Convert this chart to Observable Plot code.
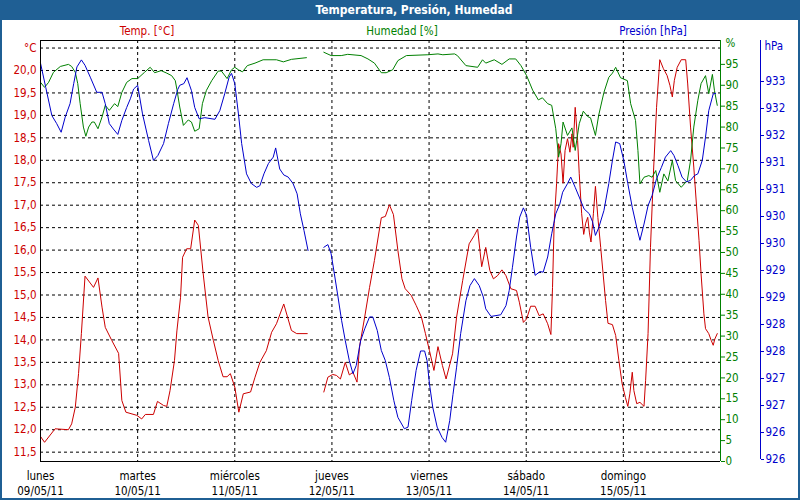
<!DOCTYPE html>
<html><head><meta charset="utf-8">
<script src="https://cdn.jsdelivr.net/npm/d3@7"></script>
<script src="https://cdn.jsdelivr.net/npm/@observablehq/plot@0.6"></script>
<style>
body{margin:0;background:#fff;}
#wrap{position:relative;width:800px;height:500px;overflow:hidden;font-family:"DejaVu Sans Condensed","Liberation Sans",sans-serif;}
#chart{position:absolute;left:0;top:0;}
#title{position:absolute;left:0;top:0;width:828px;height:20px;background:#1f5f94;color:#fff;font-weight:bold;font-size:12px;line-height:20px;text-align:center;z-index:2;}
#border{position:absolute;left:0;top:0;width:800px;height:500px;box-sizing:border-box;border:2px solid #1f5f94;pointer-events:none;z-index:3;}
.lbl{position:absolute;top:24px;font-size:11.5px;width:160px;text-align:center;z-index:2;}
</style></head>
<body>
<div id="wrap">
  <div id="chart"></div>
  <div id="title">Temperatura, Presión, Humedad</div>
  <div class="lbl" style="left:67px;color:#cc0000">Temp. [°C]</div>
  <div class="lbl" style="left:322px;color:#008000">Humedad [%]</div>
  <div class="lbl" style="left:573px;color:#0000cc">Presión [hPa]</div>
  <div id="border"></div>
</div>
<script>
// ---- data (hours since lunes 09/05/11 00:00, value) ----
const dayNames = ["lunes","martes","miércoles","jueves","viernes","sábado","domingo"];
const dayDates = ["09/05/11","10/05/11","11/05/11","12/05/11","13/05/11","14/05/11","15/05/11"];
const tempTicks = [11.5,12,12.5,13,13.5,14,14.5,15,15.5,16,16.5,17,17.5,18,18.5,19,19.5,20];
const humTicks = [0,5,10,15,20,25,30,35,40,45,50,55,60,65,70,75,80,85,90,95];
const presTicks = [925.75,926.25,926.75,927.25,927.75,928.25,928.75,929.25,929.75,930.25,930.75,931.25,931.75,932.25,932.75];

const temperature = [[0,11.85],[1.0,11.72],[3.6,12.02],[6.9,12.0],[7.7,12.13],[8.6,12.5],[9.4,13.25],[10.1,14.14],[11.0,15.42],[13.1,15.17],[14.2,15.38],[15.2,14.73],[16.0,14.28],[17.6,13.99],[19.3,13.70],[20.1,12.65],[21.1,12.39],[23.8,12.32],[25.0,12.24],[25.9,12.34],[27.9,12.34],[28.9,12.63],[30.4,12.54],[31.2,12.52],[32.0,12.87],[33.1,13.54],[33.7,14.2],[34.6,14.95],[35.1,15.84],[36.1,16.03],[37.1,16.03],[38.1,16.67],[39.0,16.55],[40.2,15.47],[41.4,14.51],[42.7,13.99],[43.9,13.54],[45.1,13.18],[46.1,13.18],[46.9,13.25],[48.0,12.95],[49.0,12.39],[50.1,12.80],[51.9,12.84],[53.0,13.17],[54.2,13.50],[55.8,13.76],[57.1,14.17],[58.3,14.36],[60.1,14.80],[62.0,14.21],[63.3,14.14],[65.9,14.14],[68,null],
[70.0,12.84],[71.0,13.17],[72.2,13.23],[73.1,13.21],[74.1,13.13],[75.3,13.50],[76.3,13.22],[77.2,13.28],[78.2,13.06],[78.8,13.84],[80.1,14.51],[81.3,15.17],[82.5,15.77],[84.2,16.72],[85.2,16.75],[86.2,17.01],[87.2,16.79],[88.3,15.99],[89.3,15.36],[90.1,15.14],[91.6,14.99],[92.8,14.77],[94.1,14.51],[95.1,14.14],[96.1,13.76],[97.2,13.32],[98.2,13.85],[99.3,13.43],[100.2,13.13],[101.8,13.69],[102.8,14.51],[104.3,15.32],[105.9,16.14],[107.2,16.33],[108.0,16.47],[109.0,15.63],[110.0,16.06],[111.0,15.55],[111.9,15.36],[112.9,15.43],[114.0,15.56],[115.0,15.43],[116.2,15.14],[117.6,15.10],[118.3,14.84],[119.3,14.39],[120.1,14.47],[121.1,14.75],[122.2,14.75],[123.2,14.54],[124.2,14.58],[125.3,14.36],[126.1,14.12],[126.5,15.17],[126.9,16.59],[127.5,17.48],[128.0,18.37],[128.6,18.14],[129.1,17.49],[129.6,18.22],[130.2,18.48],[130.8,18.18],[131.3,18.59],[131.6,18.29],[132.1,19.18],[132.7,18.44],[133.1,17.70],[133.7,16.81],[134.2,16.35],[134.7,16.60],[135.2,16.73],[135.6,16.40],[136.0,16.18],[136.6,16.81],[137.1,17.42],[137.7,16.73],[138.4,16.06],[139.0,15.47],[139.6,14.88],[140.2,14.37],[141.3,14.34],[142.1,14.10],[142.9,13.54],[143.7,13.02],[144.5,12.72],[145.1,12.52],[145.6,12.80],[146.2,13.28],[146.6,12.87],[147.3,12.58],[148.1,12.61],[149.1,12.52],[149.5,13.10],[150.1,14.14],[150.7,16.06],[151.5,17.85],[152.2,19.18],[153.0,20.24],[153.9,20.04],[154.8,19.89],[155.5,19.67],[156.1,19.41],[156.6,19.78],[157.3,20.07],[158.3,20.24],[159.4,20.24],[159.9,19.70],[160.6,18.74],[161.4,17.85],[162.1,16.96],[162.7,16.21],[163.2,15.47],[163.9,14.58],[164.3,14.25],[165.1,14.14],[165.7,13.99],[166.2,13.88],[166.6,14.02],[167.2,14.14]];

const humidity = [[0,90.7],[1.0,89.5],[2.0,90.7],[3.2,93.1],[4.9,94.5],[6.9,95.0],[7.7,94.5],[8.6,93.1],[9.2,90.4],[9.8,85.6],[10.6,80.0],[11.2,77.8],[11.9,80.0],[12.7,81.2],[13.3,81.2],[14.2,79.6],[15.2,82.4],[16.0,85.2],[17.0,84.0],[18.3,85.6],[19.1,84.9],[20.1,88.3],[21.3,90.7],[22.6,91.6],[24.0,91.6],[25.7,93.1],[27.1,94.3],[28.2,93.0],[29.8,93.5],[31.2,92.9],[32.4,92.3],[33.3,91.1],[33.7,89.0],[34.4,84.8],[35.3,80.4],[36.5,81.7],[37.3,81.2],[38.1,79.0],[39.2,79.6],[40.0,85.6],[41.0,88.8],[42.3,91.1],[43.9,93.4],[44.7,93.4],[46.1,91.6],[47.2,93.7],[48.0,94.3],[48.9,93.7],[49.9,93.2],[51.1,94.7],[53.0,95.3],[55.0,96.1],[58.3,96.1],[60.0,95.6],[62.0,96.2],[65.7,96.6],[68,null],
[70.0,97.9],[71.8,97.1],[74.3,97.1],[75.9,97.4],[79.2,97.1],[80.9,96.3],[82.5,95.3],[84.2,93.0],[85.4,93.0],[87.0,93.7],[88.3,95.9],[90.4,97.1],[95.7,97.3],[98.2,97.5],[99.4,97.3],[102.3,97.5],[103.0,97.1],[105.1,94.7],[108.0,94.3],[109.2,96.1],[110.0,95.3],[112.1,96.1],[114.0,95.0],[115.8,96.3],[117.4,96.3],[118.7,94.7],[120.1,92.3],[121.6,88.8],[123.0,86.5],[124.0,87.0],[125.3,85.6],[126.3,85.2],[127.3,79.6],[128.0,72.8],[128.6,76.0],[129.1,81.2],[130.2,78.0],[131.3,79.8],[132.1,74.4],[133.1,80.8],[134.1,83.8],[135.2,82.5],[135.9,82.2],[137.1,78.0],[137.9,82.8],[139.2,88.3],[140.4,91.9],[141.3,92.9],[142.1,94.3],[143.3,91.8],[145.0,91.1],[145.8,85.6],[147.0,81.6],[147.6,74.4],[148.1,66.4],[149.1,68.0],[150.3,68.4],[151.1,68.0],[152.0,69.6],[153.0,64.4],[154.0,68.8],[155.0,67.1],[156.1,72.0],[156.9,67.2],[158.3,65.6],[159.8,67.2],[160.6,72.0],[161.4,80.0],[162.4,86.4],[163.2,90.4],[164.3,92.3],[165.1,88.0],[166.0,92.6],[166.5,88.8],[167.2,85.2]];

const pressure = [[0,933.09],[1.3,932.64],[2.8,932.12],[4.0,931.97],[5.1,931.81],[6.1,932.09],[7.3,932.34],[8.2,932.71],[9.0,933.02],[10.1,933.15],[11.0,933.05],[12.3,932.83],[13.9,932.55],[15.2,932.55],[16.0,932.34],[17.0,931.97],[18.0,931.87],[19.1,931.77],[20.1,932.03],[21.3,932.27],[22.2,932.43],[23.0,932.61],[24.0,932.68],[25.2,932.15],[26.7,931.66],[27.9,931.29],[29.0,931.38],[30.4,931.60],[31.6,931.97],[32.9,932.34],[33.9,932.6],[34.4,932.68],[35.4,932.71],[36.2,932.82],[37.3,932.58],[38.1,932.27],[39.2,932.06],[40.6,932.08],[43.1,932.05],[44.3,932.21],[45.5,932.52],[46.6,932.83],[47.2,932.90],[48.0,932.71],[48.9,932.15],[49.7,931.60],[50.9,931.04],[52.1,930.86],[53.4,930.79],[54.2,930.82],[55.2,931.04],[56.3,931.23],[57.5,931.35],[58.1,931.52],[59.1,931.13],[60.1,931.02],[61.2,930.98],[62.4,930.86],[63.4,930.67],[64.2,930.30],[65.1,929.99],[66.1,929.62],[68,null],
[70.0,929.68],[71.0,929.73],[71.8,929.56],[72.6,929.19],[73.5,928.76],[74.4,928.32],[75.3,927.95],[76.3,927.58],[77.2,927.34],[78.0,927.49],[79.1,927.95],[80.1,928.17],[81.3,928.39],[82.1,928.39],[83.2,928.14],[84.2,927.77],[85.2,927.58],[86.2,927.27],[87.3,926.84],[88.3,926.53],[89.9,926.32],[90.8,926.35],[91.7,926.84],[92.8,927.40],[93.9,927.76],[94.9,927.76],[95.5,927.58],[96.1,927.15],[96.9,926.72],[98.0,926.35],[99.2,926.16],[100.1,926.07],[101.1,926.47],[101.9,926.95],[102.8,927.46],[103.8,928.08],[105.1,928.69],[106.1,928.97],[107.2,929.10],[108.4,928.97],[109.4,928.76],[110.0,928.54],[111.3,928.40],[113.7,928.43],[115.0,928.60],[115.8,928.88],[116.6,929.31],[117.6,929.87],[118.4,930.24],[119.3,930.41],[120.1,930.27],[121.1,929.68],[122.2,929.16],[123.4,929.23],[124.2,929.22],[125.3,929.50],[126.3,929.93],[127.3,930.30],[128.3,930.48],[129.0,930.70],[130.2,930.86],[131.0,930.98],[132.1,930.79],[133.1,930.61],[134.3,930.39],[135.6,930.30],[136.4,930.15],[137.1,929.90],[137.9,930.04],[139.2,930.36],[140.4,930.86],[141.3,931.29],[142.1,931.63],[143.1,931.60],[144.1,931.29],[145.1,930.86],[146.2,930.42],[147.3,930.05],[148.1,929.81],[149.1,930.11],[150.1,930.45],[151.1,930.64],[152.2,930.95],[153.4,931.16],[154.4,931.35],[155.7,931.47],[156.5,931.38],[157.5,931.19],[158.5,930.98],[159.6,930.89],[160.6,930.92],[161.6,931.01],[162.4,931.04],[163.5,931.29],[164.3,931.72],[165.1,932.21],[166.2,932.52],[166.8,932.53]];

// ---- scales: all series share the temperature axis; others mapped linearly ----
const T_MIN = 11.292, T_MAX = 20.668;
const humToT = h => 11.292 + h * 0.09310;
const tToHum = t => (t - 11.292) / 0.09310;
const presToT = p => 11.336 + (p - 925.75) * 1.2027;
const tToPres = t => 925.75 + (t - 11.336) / 1.2027;

const RED = "#cc0000", GREEN = "#008000", BLUE = "#0000cc";
const rows = arr => arr.map(([h, v]) => ({h, v}));
const days = [0,1,2,3,4,5,6];

const chart = Plot.plot({
  width: 800, height: 500,
  marginLeft: 40, marginRight: 80, marginTop: 40, marginBottom: 39,
  style: {fontFamily: '"DejaVu Sans Condensed","Liberation Sans",sans-serif', fontSize: "11.5px", background: "transparent", color: "#000", overflow: "visible"},
  x: {domain: [0, 168]},
  y: {domain: [T_MIN, T_MAX]},
  marks: [
    Plot.ruleY(tempTicks.concat([20.5]), {stroke: "#000", strokeDasharray: "3,3"}),
    Plot.ruleX(days.slice(1).map(d => d * 24), {stroke: "#000", strokeDasharray: "3,3"}),
    Plot.line(rows(temperature), {x: "h", y: d => d.v == null ? NaN : d.v, stroke: RED, strokeWidth: 1}),
    Plot.line(rows(humidity), {x: "h", y: d => d.v == null ? NaN : humToT(d.v), stroke: GREEN, strokeWidth: 1}),
    Plot.line(rows(pressure), {x: "h", y: d => d.v == null ? NaN : presToT(d.v), stroke: BLUE, strokeWidth: 1}),
    Plot.ruleX([0], {stroke: "#000"}),
    Plot.ruleY([T_MIN, T_MAX], {stroke: "#000"}),
    Plot.ruleX([168], {stroke: GREEN}),
    Plot.ruleX([168], {y1: presToT(925.75), y2: T_MAX, dx: 40, stroke: BLUE}),
    Plot.axisY({ticks: tempTicks, tickFormat: d => d.toFixed(1).replace(".", ","), tickSize: 0, tickPadding: 4, color: RED, label: null}),
    Plot.axisY({anchor: "right", ticks: humTicks.map(humToT), tickFormat: d => String(Math.round(tToHum(d))), tickSize: 4, tickPadding: 1, color: GREEN, label: null}),
    Plot.axisY({anchor: "right", ticks: presTicks.map(presToT), tickFormat: d => String(Math.round(tToPres(d))), tickSize: 3, tickPadding: 2, dx: 40, color: BLUE, label: null}),
    Plot.text([{x: 0, y: 20.5, t: "°C"}], {x: "x", y: "y", text: "t", dx: -4, textAnchor: "end", fill: RED}),
    Plot.text([{x: 168, y: humToT(100), t: "%"}], {x: "x", y: "y", text: "t", dx: 5, textAnchor: "start", fill: GREEN}),
    Plot.text([{x: 168, y: presToT(933.4), t: "hPa"}], {x: "x", y: "y", text: "t", dx: 44, textAnchor: "start", fill: BLUE}),
    Plot.axisX({ticks: days.map(d => d * 24), tickFormat: d => dayNames[d / 24] + "\n" + dayDates[d / 24], tickSize: 0, tickPadding: 8, lineHeight: 1.3, label: null})
  ]
});
document.getElementById("chart").appendChild(chart);
</script>
</body></html>
